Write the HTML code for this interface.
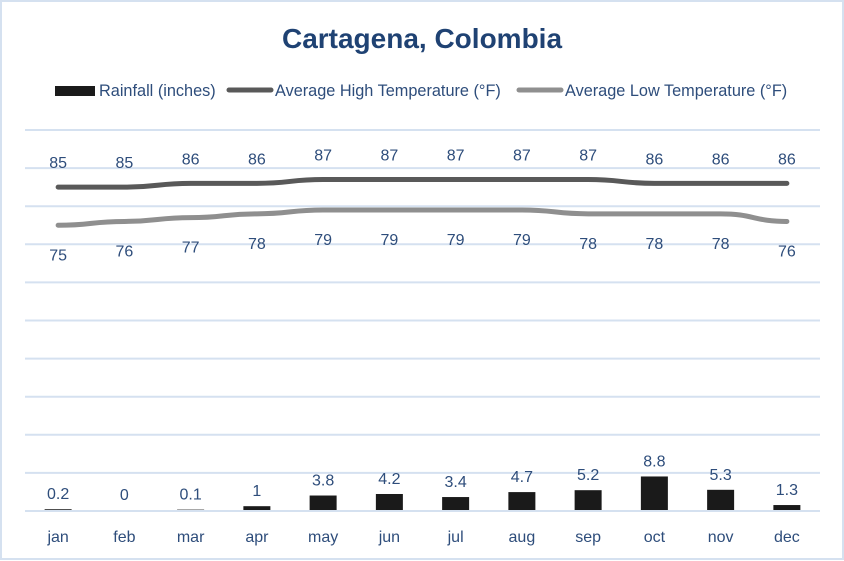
<!DOCTYPE html>
<html><head><meta charset="utf-8"><style>
html,body{margin:0;padding:0;background:#fff}
svg{display:block;font-family:"Liberation Sans",sans-serif}
</style></head><body>
<svg id="c" width="844" height="561">
<rect x="1" y="1" width="842" height="558" fill="#fff" stroke="#d5e1f0" stroke-width="2"/>
<text x="422" y="48" text-anchor="middle" font-size="28" font-weight="bold" fill="#1f4273">Cartagena, Colombia</text>
<g font-size="16.3" fill="#2e4d7b">
<g><rect x="55" y="86" width="40" height="10" fill="#1a1a1a"/><text x="99" y="96">Rainfall (inches)</text></g>
<g><line x1="229" y1="90" x2="271" y2="90" stroke="#595959" stroke-width="5" stroke-linecap="round"/><text x="275" y="96">Average High Temperature (°F)</text></g>
<g><line x1="519" y1="90" x2="561" y2="90" stroke="#8f8f8f" stroke-width="5" stroke-linecap="round"/><text x="565" y="96">Average Low Temperature (°F)</text></g>
</g>
<g id="grid"></g>
<g id="marks"></g>
</svg>
<script>
const months=["jan","feb","mar","apr","may","jun","jul","aug","sep","oct","nov","dec"];
const rainfall=[0.2,0,0.1,1,3.8,4.2,3.4,4.7,5.2,8.8,5.3,1.3];
const highTemp=[85,85,86,86,87,87,87,87,87,86,86,86];
const lowTemp=[75,76,77,78,79,79,79,79,78,78,78,76];
const yTicks=[0,10,20,30,40,50,60,70,80,90,100];
const NS="http://www.w3.org/2000/svg";
const L=25,R=820,T=130,B=511,YMAX=100;
const step=(R-L)/months.length;
const x=i=>L+step*(i+0.5);
const y=v=>B-(v/YMAX)*(B-T);
function mk(tag,attrs,parent,txt){const e=document.createElementNS(NS,tag);for(const k in attrs)e.setAttribute(k,attrs[k]);if(txt!==undefined)e.textContent=txt;parent.appendChild(e);return e;}
const grid=document.getElementById('grid'),marks=document.getElementById('marks');
yTicks.forEach(t=>{const l=mk('line',{x1:L,x2:R,y1:y(t),y2:y(t),stroke:'#d5e1f0','stroke-width':2},grid);

});
months.forEach((m,i)=>{
const h=Math.max(0,B-y(rainfall[i]));
const b=mk('rect',{x:x(i)-13.5,y:B-h-1,width:27,height:h,fill:'#1a1a1a'},marks);


const bl=mk('text',{x:x(i),y:B-h-11,'text-anchor':'middle','font-size':16,fill:'#2e4d7b'},marks,String(rainfall[i]));


const xl=mk('text',{x:x(i),y:542,'text-anchor':'middle','font-size':16,fill:'#2e4d7b'},marks,m);


});
function smooth(vals){let d='M'+x(0)+','+y(vals[0]);for(let i=1;i<vals.length;i++){const x0=x(i-1),x1=x(i),mx=(x0+x1)/2;d+=' C'+mx+','+y(vals[i-1])+' '+mx+','+y(vals[i])+' '+x1+','+y(vals[i]);}return d;}
[[highTemp,'#595959','high',-19],[lowTemp,'#8f8f8f','low',35]].forEach(([vals,col,nm,off])=>{
const p=mk('path',{d:smooth(vals),fill:'none',stroke:col,'stroke-width':5,'stroke-linecap':'round'},marks);


vals.forEach((v,i)=>{const t=mk('text',{x:x(i),y:y(v)+off,'text-anchor':'middle','font-size':16,fill:'#2e4d7b'},marks,String(v));

});
});
</script>
</body></html>
